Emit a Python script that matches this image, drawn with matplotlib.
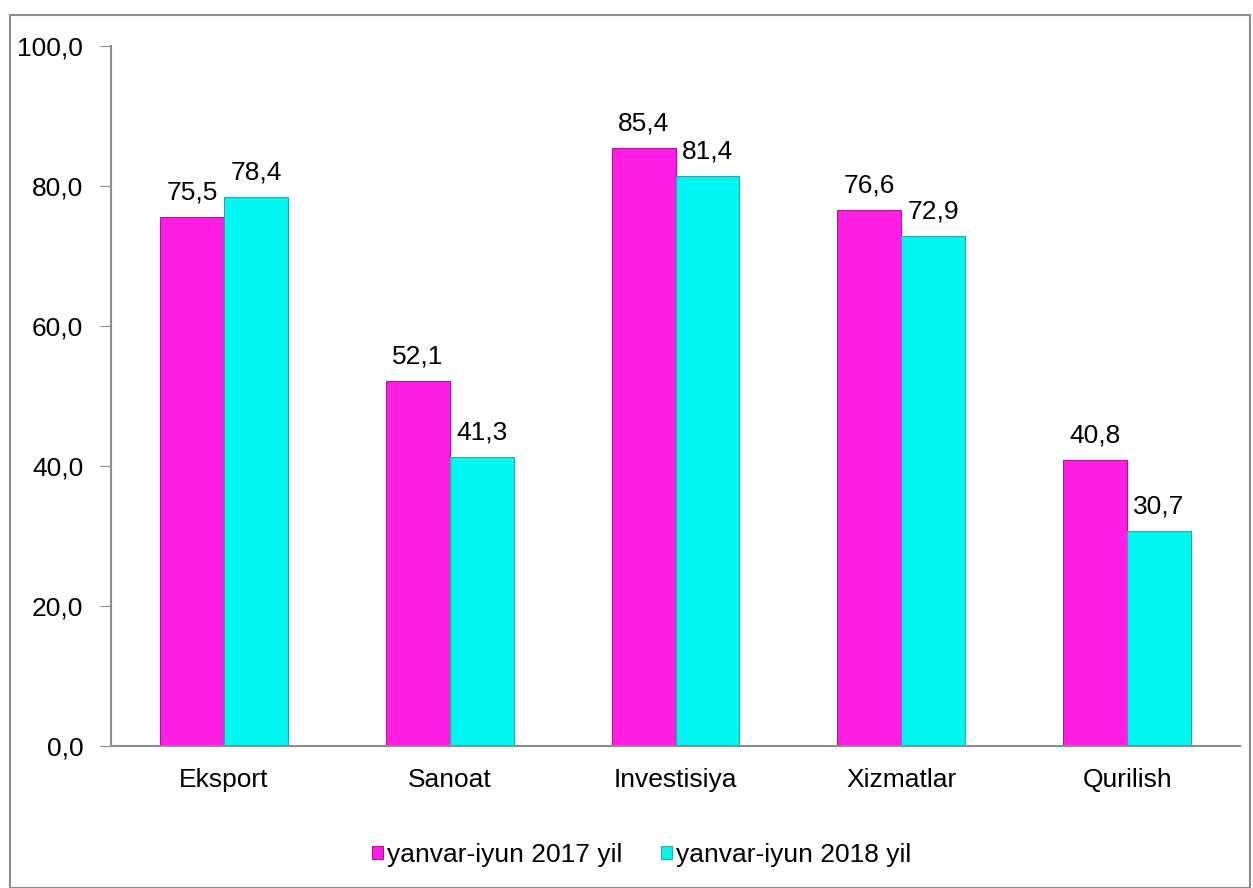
import numpy as np
import matplotlib
matplotlib.use("Agg")
import matplotlib.pyplot as plt
from matplotlib.patches import Rectangle
from matplotlib.ticker import FuncFormatter

categories = ['Eksport', 'Sanoat', 'Investisiya', 'Xizmatlar', 'Qurilish']
val_2017 = [75.5, 52.1, 85.4, 76.6, 40.8]
val_2018 = [78.4, 41.3, 81.4, 72.9, 30.7]
labels = ['yanvar-iyun 2017 yil', 'yanvar-iyun 2018 yil']
yticks = [0, 20, 40, 60, 80, 100]

plt.rcParams['font.family'] = ['Liberation Sans', 'DejaVu Sans']
magenta = '#FF1EE3'
cyan = '#00F6F0'
fs = 19

fig = plt.figure(figsize=(12.53, 8.88), dpi=100)
# outer frame
fig.patches.append(Rectangle((10 / 1253, 0.0), 1240 / 1253, (888 - 15) / 888,
                             transform=fig.transFigure, fill=False,
                             edgecolor='#8c8c8c', linewidth=1.5))
ax = fig.add_axes([111 / 1253, 1 - 746 / 888, 1129 / 1253, 700 / 888])

x = np.arange(len(categories))
w = 0.283
b1 = ax.bar(x - w / 2, val_2017, w, color=magenta, edgecolor='#b0109a', linewidth=0.8, label=labels[0])
b2 = ax.bar(x + w / 2, val_2018, w, color=cyan, edgecolor='#2aa8a4', linewidth=0.8, label=labels[1])

def fmt(v):
    return ('%.1f' % v).replace('.', ',')

for bars, vals in ((b1, val_2017), (b2, val_2018)):
    for r, v in zip(bars, vals):
        ax.annotate(fmt(v), (r.get_x() + r.get_width() / 2, v), xytext=(0, 9),
                    textcoords='offset points', ha='center', va='bottom', fontsize=fs)

ax.set_xlim(-0.5, 4.5)
ax.set_ylim(0, 100)
ax.set_yticks(yticks)
ax.yaxis.set_major_formatter(FuncFormatter(lambda v, p: fmt(v)))
ax.set_xticks(x)
ax.set_xticklabels(categories)
ax.tick_params(axis='y', labelsize=fs, length=8, color='#8c8c8c', pad=12)
ax.tick_params(axis='x', labelsize=fs, length=0, pad=16)
for s in ('top', 'right'):
    ax.spines[s].set_visible(False)
for s in ('left', 'bottom'):
    ax.spines[s].set_color('#8c8c8c')
    ax.spines[s].set_linewidth(1.5)

ax.legend(loc='upper center', bbox_to_anchor=(0.47, -0.105), ncol=2, frameon=False,
          fontsize=fs, handlelength=0.4, handleheight=0.4, handletextpad=0.15, columnspacing=1.5)

fig.savefig('out.png', dpi=100)
